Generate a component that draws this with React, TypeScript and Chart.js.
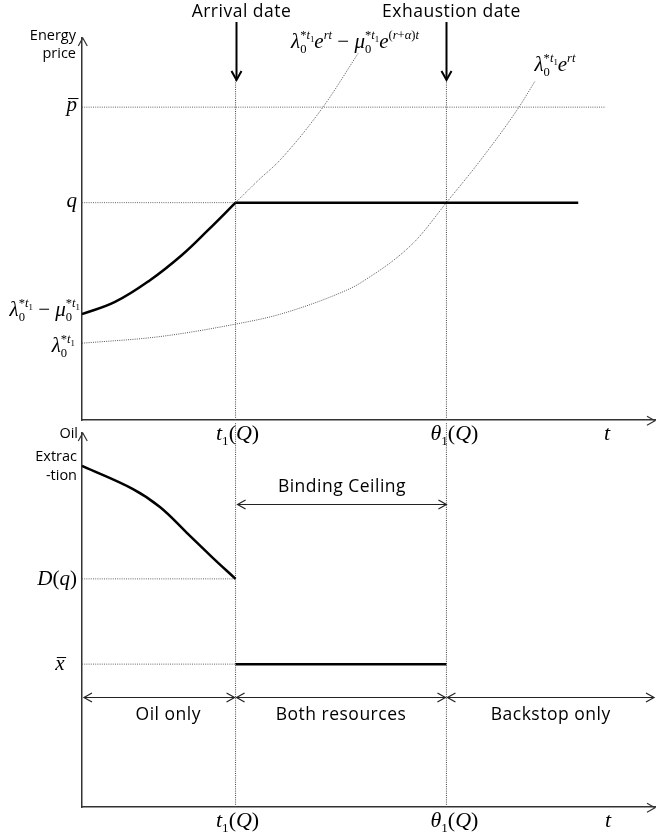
import { useEffect, useRef } from 'react';
import Chart from 'chart.js/auto';

// ---------- data (arbitrary units) ----------
const T_MAX = 100;
const T1 = 26.8; // arrival date t1(Q)
const THETA1 = 63.6; // exhaustion date θ1(Q)

// top panel: energy price
const PRICE_MAX = 10;
const P_BAR = 8.19;
const Q_PRICE = 5.69;
const Q_END_T = 86.6;
const P_BAR_END_T = 91.4;
const PRICE_GUIDE_TOP = 8.9;
const pathT = [0, 5.76, 11.69, 17.45, 21.99, 26.8];
const pathPrice = [2.77, 3.09, 3.64, 4.32, 4.97, 5.69];
const lamT = [0, 13.4, 26.8, 34.6, 46.2, 48.5, 57.8, 63.6, 70.0, 76.3, 79.1];
const lamPrice = [2.01, 2.18, 2.51, 2.77, 3.4, 3.58, 4.63, 5.69, 6.89, 8.2, 8.88];
const diffT = [26.8, 30.8, 34.6, 42.1, 48.2];
const diffPrice = [5.69, 6.28, 6.81, 8.2, 9.6];

// bottom panel: oil extraction
const EXTR_MAX = 10;
const extrT = [0, 8.9, 13.6, 18.3, 22.5, 26.8];
const extrVal = [9.12, 8.5, 8.02, 7.33, 6.71, 6.1];
const D_Q = 6.1;
const X_BAR = 3.82;
const EXTR_GUIDE_TOP = 10.29;

const regionNames = ['Oil only', 'Both resources', 'Backstop only'];
const regionEdges = [0, T1, THETA1, T_MAX];

// ---------- layout ----------
const W = 657;
const TOP_H = 450;
const BOT_OFF = 420;
const BOT_H = 419;
const REGION_ARROW_V = 2.94;
const CEILING_ARROW_V = 8.1;
const regionLabelShift = [9, 0, 0];

const SERIF = '"Liberation Serif", "DejaVu Serif", serif';
const SANS = '"Open Sans", Lato, sans-serif';

type Seg = { t: string; it?: boolean; s?: number; dy?: number; mark?: boolean; back?: boolean; bar?: boolean };

const SUP = -0.42;
const SUB = 0.22;
const starSup = (base: string): Seg[] => [
  { t: base, it: true },
  { t: '0', s: 0.6, dy: SUB, mark: true },
  { t: '*', s: 0.6, dy: SUP, back: true },
  { t: 't', it: true, s: 0.6, dy: SUP },
  { t: '1', s: 0.42, dy: -0.3 },
];
const lam0 = starSup('λ');
const mu0 = starSup('μ');
const minus: Seg[] = [{ t: ' − ' }];
const eRt: Seg[] = [{ t: 'e', it: true }, { t: 'rt', it: true, s: 0.6, dy: SUP }];
const eRat: Seg[] = [
  { t: 'e', it: true },
  { t: '(', s: 0.6, dy: SUP },
  { t: 'r', it: true, s: 0.6, dy: SUP },
  { t: '+', s: 0.6, dy: SUP },
  { t: 'α', it: true, s: 0.6, dy: SUP },
  { t: ')', s: 0.6, dy: SUP },
  { t: 't', it: true, s: 0.6, dy: SUP },
];
const withQ = (base: string): Seg[] => [
  { t: base, it: true },
  { t: '1', s: 0.6, dy: SUB },
  { t: '(' },
  { t: 'Q', it: true },
  { t: ')' },
];

function drawMath(ctx: CanvasRenderingContext2D, segs: Seg[], x: number, y: number, align: string, size = 21) {
  let cx = 0, maxX = 0, markX = 0;
  const out: { g: Seg; x: number; w: number; font: string; s: number }[] = [];
  for (const g of segs) {
    const s = g.s ?? 1;
    if (g.back) cx = markX;
    else if (s === 1) cx = maxX;
    if (g.mark) markX = cx;
    const font = `${g.it ? 'italic ' : ''}${(size * s).toFixed(2)}px ${SERIF}`;
    ctx.font = font;
    const w = ctx.measureText(g.t).width;
    out.push({ g, x: cx, w, font, s });
    cx += w;
    maxX = Math.max(maxX, cx);
  }
  const x0 = align === 'left' ? x : align === 'right' ? x - maxX : x - maxX / 2;
  ctx.save();
  ctx.fillStyle = '#000';
  ctx.strokeStyle = '#000';
  ctx.textAlign = 'left';
  ctx.textBaseline = 'alphabetic';
  for (const o of out) {
    ctx.font = o.font;
    const yy = y + (o.g.dy ?? 0) * size;
    ctx.fillText(o.g.t, x0 + o.x, yy);
    if (o.g.bar) {
      ctx.lineWidth = 1;
      ctx.beginPath();
      ctx.moveTo(x0 + o.x + 1.5, yy - 0.6 * size);
      ctx.lineTo(x0 + o.x + o.w + 1.5, yy - 0.6 * size);
      ctx.stroke();
    }
  }
  ctx.restore();
}

function chevron(ctx: CanvasRenderingContext2D, x: number, y: number, dir: string, len = 8, half = 4.5) {
  ctx.beginPath();
  if (dir === 'up') { ctx.moveTo(x - half, y + len); ctx.lineTo(x, y); ctx.lineTo(x + half, y + len); }
  if (dir === 'down') { ctx.moveTo(x - half, y - len); ctx.lineTo(x, y); ctx.lineTo(x + half, y - len); }
  if (dir === 'left') { ctx.moveTo(x + len, y - half); ctx.lineTo(x, y); ctx.lineTo(x + len, y + half); }
  if (dir === 'right') { ctx.moveTo(x - len, y - half); ctx.lineTo(x, y); ctx.lineTo(x - len, y + half); }
  ctx.stroke();
}

function line(ctx: CanvasRenderingContext2D, x1: number, y1: number, x2: number, y2: number) {
  ctx.beginPath();
  ctx.moveTo(x1, y1);
  ctx.lineTo(x2, y2);
  ctx.stroke();
}

function sansText(ctx: any, text: string, x: number, y: number, font: string, align: string, spacing = '0px') {
  ctx.font = font;
  ctx.textAlign = align;
  ctx.textBaseline = 'alphabetic';
  if ('letterSpacing' in ctx) ctx.letterSpacing = spacing;
  ctx.fillText(text, x, y);
  if ('letterSpacing' in ctx) ctx.letterSpacing = '0px';
}

const pts = (xs: number[], ys: number[]) => xs.map((x, i) => ({ x, y: ys[i] }));

const solid = (data: any, width = 2.5, tension = 0) => ({
  data, showLine: true, borderColor: '#000', borderWidth: width, pointRadius: 0,
  tension, fill: false,
});
const dotted = (data: any, color = '#555', curve = false, clip: any = undefined) => ({
  data, showLine: true, borderColor: color, borderWidth: 1, borderDash: [1, 1.2], pointRadius: 0,
  cubicInterpolationMode: curve ? 'monotone' : 'default', fill: false, ...(clip === false ? { clip: false } : {}),
});

const axisScale = (max: number) => ({
  type: 'linear', min: 0, max,
  grid: { display: false, drawTicks: false },
  ticks: { display: false },
  border: { display: true, color: '#333', width: 1.5 },
});

const baseOptions = (padding: any, yMax: number) => ({
  animation: false,
  responsive: false,
  events: [],
  layout: { padding },
  plugins: { legend: { display: false }, tooltip: { enabled: false } },
  scales: { x: axisScale(T_MAX), y: axisScale(yMax) },
});

const AXIS_FONT = `14.5px ${SANS}`;
const NOTE_FONT = `17.5px ${SANS}`;
const NOTE_SPACING = '0.5px';

const topPlugin = {
  id: 'topDecor',
  afterDraw(chart: any) {
    const { ctx, chartArea: a, scales: { x, y } } = chart;
    ctx.save();
    ctx.strokeStyle = '#333';
    ctx.lineWidth = 1.2;
    chevron(ctx, a.left + 0.75, a.top, 'up');
    chevron(ctx, a.right, a.bottom + 0.75, 'right');
    ctx.fillStyle = '#000';
    sansText(ctx, 'Energy', 76, 40, AXIS_FONT, 'right');
    sansText(ctx, 'price', 76, 58, AXIS_FONT, 'right');
    const dates: [number, string][] = [[T1, 'Arrival date'], [THETA1, 'Exhaustion date']];
    for (const [t, label] of dates) {
      const px = Math.round(x.getPixelForValue(t)) + 0.5;
      ctx.strokeStyle = '#000';
      ctx.lineWidth = 2;
      line(ctx, px, 22, px, 79);
      chevron(ctx, px, 80, 'down', 9, 5);
      sansText(ctx, label, px + 5, 17, NOTE_FONT, 'center', NOTE_SPACING);
    }
    ctx.restore();
    drawMath(ctx, [{ t: 'p', it: true, bar: true }], 77, y.getPixelForValue(P_BAR) + 4, 'right');
    drawMath(ctx, [{ t: 'q', it: true }], 77, y.getPixelForValue(Q_PRICE) + 4, 'right');
    drawMath(ctx, [...lam0, ...minus, ...mu0], 80, y.getPixelForValue(pathPrice[0]) + 2, 'right');
    drawMath(ctx, lam0, 75, y.getPixelForValue(lamPrice[0]) + 9, 'right');
    drawMath(ctx, [...lam0, ...eRt, ...minus, ...mu0, ...eRat], 355, 48, 'center');
    drawMath(ctx, [...lam0, ...eRt], 555, 71, 'center');
    drawMath(ctx, withQ('t'), x.getPixelForValue(T1) + 2, 440, 'center', 22);
    drawMath(ctx, withQ('θ'), x.getPixelForValue(THETA1) + 8, 440, 'center', 22);
    drawMath(ctx, [{ t: 't', it: true }], 607, 440, 'center', 22);
  },
};

const botPlugin = {
  id: 'botDecor',
  afterDraw(chart: any) {
    const { ctx, chartArea: a, scales: { x, y } } = chart;
    ctx.save();
    ctx.strokeStyle = '#333';
    ctx.lineWidth = 1.2;
    chevron(ctx, a.left + 0.75, a.top, 'up');
    chevron(ctx, a.right, a.bottom + 0.75, 'right');
    ctx.fillStyle = '#000';
    sansText(ctx, 'Oil', 78, 438 - BOT_OFF, AXIS_FONT, 'right');
    sansText(ctx, 'Extrac', 77, 461 - BOT_OFF, AXIS_FONT, 'right');
    sansText(ctx, '-tion', 77, 480 - BOT_OFF, AXIS_FONT, 'right');

    // binding ceiling
    ctx.strokeStyle = '#222';
    ctx.lineWidth = 1.2;
    const yb = Math.round(y.getPixelForValue(CEILING_ARROW_V)) + 0.5;
    const xb1 = x.getPixelForValue(T1) + 2;
    const xb2 = x.getPixelForValue(THETA1);
    line(ctx, xb1, yb, xb2, yb);
    chevron(ctx, xb1, yb, 'left');
    chevron(ctx, xb2, yb, 'right');
    sansText(ctx, 'Binding Ceiling', (xb1 + xb2) / 2, yb - 13, NOTE_FONT, 'center', NOTE_SPACING);

    // regimes
    const yr = Math.round(y.getPixelForValue(REGION_ARROW_V)) + 0.5;
    for (let i = 0; i < regionNames.length; i++) {
      const xa = x.getPixelForValue(regionEdges[i]) + (i === 0 ? 2 : 1);
      const xe = x.getPixelForValue(regionEdges[i + 1]) - 1;
      line(ctx, xa, yr, xe, yr);
      chevron(ctx, xa, yr, 'left');
      chevron(ctx, xe, yr, 'right');
      sansText(ctx, regionNames[i], (xa + xe) / 2 + regionLabelShift[i], yr + 22, NOTE_FONT, 'center', NOTE_SPACING);
    }
    ctx.restore();

    drawMath(ctx, [{ t: 'D', it: true }, { t: '(' }, { t: 'q', it: true }, { t: ')' }], 77, y.getPixelForValue(D_Q) + 6, 'right');
    drawMath(ctx, [{ t: 'x', it: true, bar: true }], 60, y.getPixelForValue(X_BAR) + 6, 'center');
    const yl = 827 - BOT_OFF;
    drawMath(ctx, withQ('t'), x.getPixelForValue(T1) + 2, yl, 'center', 22);
    drawMath(ctx, withQ('θ'), x.getPixelForValue(THETA1) + 8, yl, 'center', 22);
    drawMath(ctx, [{ t: 't', it: true }], 608, yl, 'center', 22);
  },
};

export default function App() {
  const topRef = useRef<HTMLCanvasElement>(null);
  const botRef = useRef<HTMLCanvasElement>(null);

  useEffect(() => {
    const top = new Chart(topRef.current as HTMLCanvasElement, {
      type: 'scatter',
      data: {
        datasets: [
          solid(pts(pathT, pathPrice), 2.5, 0.4),
          solid(pts([T1, Q_END_T], [Q_PRICE, Q_PRICE]), 2.5),
          dotted(pts([T1, T1], [0, PRICE_GUIDE_TOP]), '#444'),
          dotted(pts([THETA1, THETA1], [0, PRICE_GUIDE_TOP]), '#444'),
          dotted(pts([0, P_BAR_END_T], [P_BAR, P_BAR]), '#666'),
          dotted(pts([0, T1], [Q_PRICE, Q_PRICE]), '#666'),
          dotted(pts(lamT, lamPrice), '#555', true),
          dotted(pts(diffT, diffPrice), '#555', true),
        ] as any,
      },
      options: baseOptions({ left: 82, right: W - 655, top: 38, bottom: TOP_H - 420 }, PRICE_MAX) as any,
      plugins: [topPlugin],
    });
    const bot = new Chart(botRef.current as HTMLCanvasElement, {
      type: 'scatter',
      data: {
        datasets: [
          solid(pts(extrT, extrVal), 2.5, 0.4),
          solid(pts([T1, THETA1], [X_BAR, X_BAR]), 2.5),
          dotted(pts([0, T1], [D_Q, D_Q]), '#666'),
          dotted(pts([0, T1], [X_BAR, X_BAR]), '#666'),
          dotted(pts([T1, T1], [0, EXTR_GUIDE_TOP]), '#444', false, false),
          dotted(pts([THETA1, THETA1], [0, EXTR_GUIDE_TOP]), '#444', false, false),
        ] as any,
      },
      options: baseOptions({ left: 82, right: W - 655, top: 433 - BOT_OFF, bottom: BOT_H - (807 - BOT_OFF) }, EXTR_MAX) as any,
      plugins: [botPlugin],
    });
    return () => {
      top.destroy();
      bot.destroy();
    };
  }, []);

  return (
    <div style={{ position: 'absolute', left: 0, top: 0, width: W, height: 839, background: '#fff' }}>
      <canvas ref={topRef} width={W} height={TOP_H} style={{ position: 'absolute', left: 0, top: 0, width: W, height: TOP_H }} />
      <canvas ref={botRef} width={W} height={BOT_H} style={{ position: 'absolute', left: 0, top: BOT_OFF, width: W, height: BOT_H }} />
    </div>
  );
}
